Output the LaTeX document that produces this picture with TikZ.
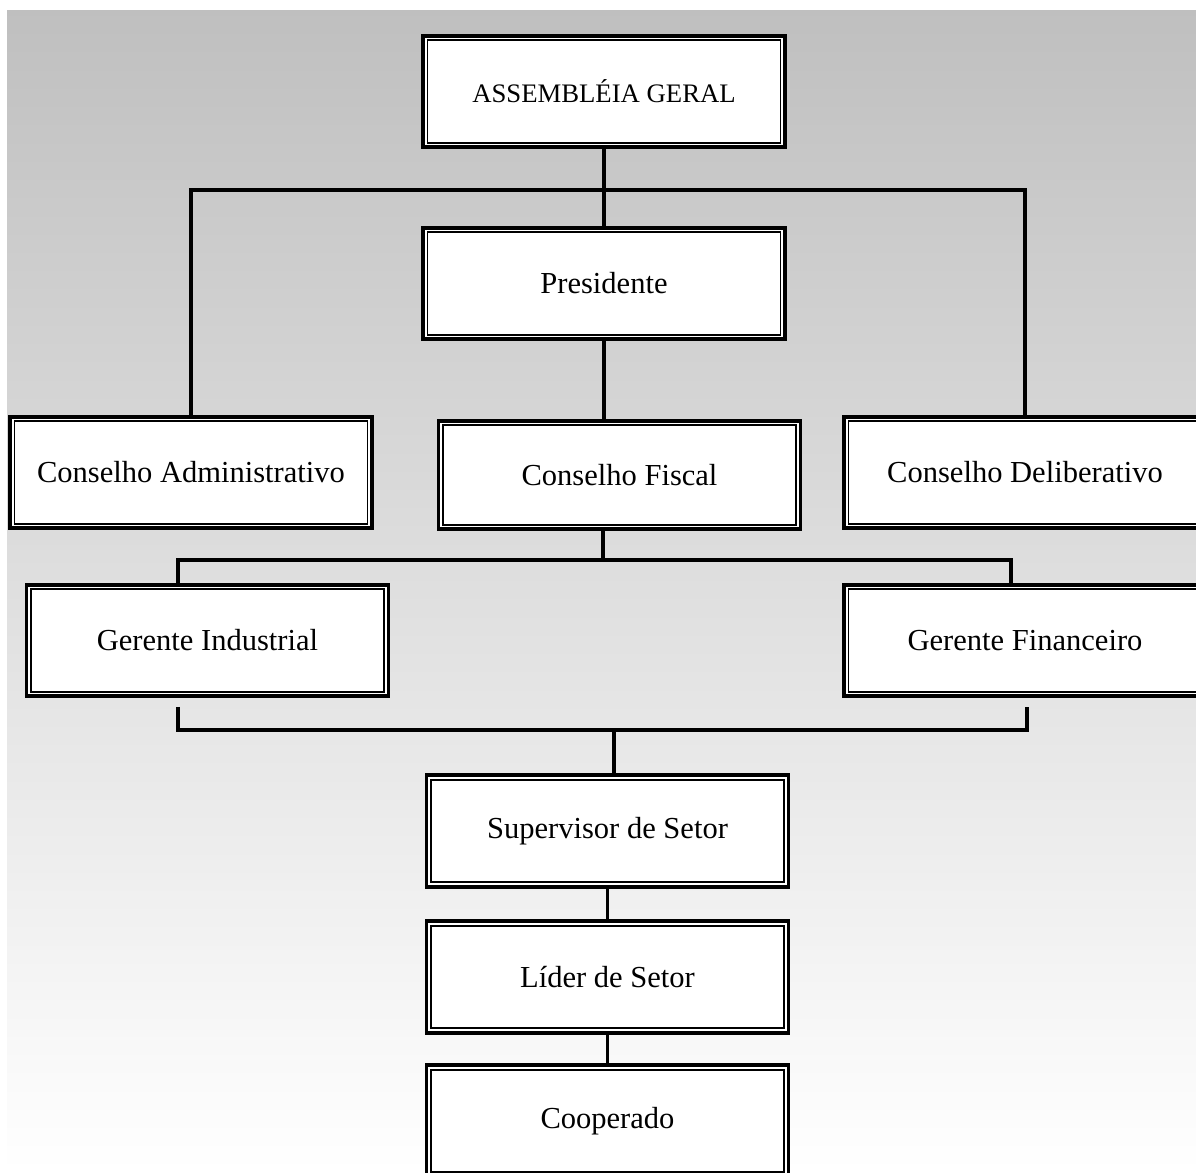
\documentclass[tikz,border=0pt]{standalone}
\usepackage{fontspec}
\setmainfont{Liberation Serif}

\begin{document}
\begin{tikzpicture}[x=0.393pt,y=-0.393pt,
    cargo/.style={draw, fill=white, line width=1.4pt,
      minimum width=142.4pt, minimum height=43.8pt, inner sep=0pt,
      font=\fontsize{12}{14}\selectfont,
      path picture={\draw [line width=0.7pt]
        ([shift={(1.8pt,1.8pt)}]path picture bounding box.south west) rectangle
        ([shift={(-1.8pt,-1.8pt)}]path picture bounding box.north east);}},
    elo/.style={line width=1.2pt}]
    \useasboundingbox (0,0) rectangle (1196,1173);
    \shade [top color=black!25, bottom color=white] (7,11) rectangle (1196,1173);
    \node [cargo, font=\fontsize{10.5}{12}\selectfont] (asm) at (604,91.5) {ASSEMBLÉIA GERAL};
    \node [cargo] (pres) at (604,283.5) {Presidente};
    \node [cargo] (cadm) at (191,472.5) {Conselho Administrativo};
    \node [cargo, minimum height=42.6pt] (cfis) at (619.5,475) {Conselho Fiscal};
    \node [cargo] (cdel) at (1025,472.5) {Conselho Deliberativo};
    \node [cargo] (gind) at (207.5,640.5) {Gerente Industrial};
    \node [cargo] (gfin) at (1025,640.5) {Gerente Financeiro};
    \node [cargo] (sup) at (607.5,831) {Supervisor de Setor};
    \node [cargo] (lid) at (607.5,977) {Líder de Setor};
    \node [cargo] (coop) at (607.5,1121) {Cooperado};
    \coordinate (j1) at (604,190);
    \coordinate (j2) at (603,560);
    \coordinate (a2l) at (178,560);
    \coordinate (a2r) at (1011,560);
    \coordinate (bl) at (178,707);
    \coordinate (br) at (1027,707);
    \coordinate (j3) at (614,730);
    \draw [elo] (asm.south) -- (pres.north);
    \draw [elo] (cadm.north) |- (j1) -| (cdel.north);
    \draw [elo] (pres.south) -- (pres.south |- cfis.north);
    \draw [elo] (j2 |- cfis.south) -- (j2);
    \draw [elo] (a2l |- gind.north) -- (a2l) -- (a2r) -- (a2r |- gfin.north);
    \draw [elo] (bl) |- (br |- j3) -- (br);
    \draw [elo] (j3) -- (j3 |- sup.north);
    \draw [elo] (sup.south) -- (lid.north);
    \draw [elo] (lid.south) -- (coop.north);
\end{tikzpicture}
\end{document}
